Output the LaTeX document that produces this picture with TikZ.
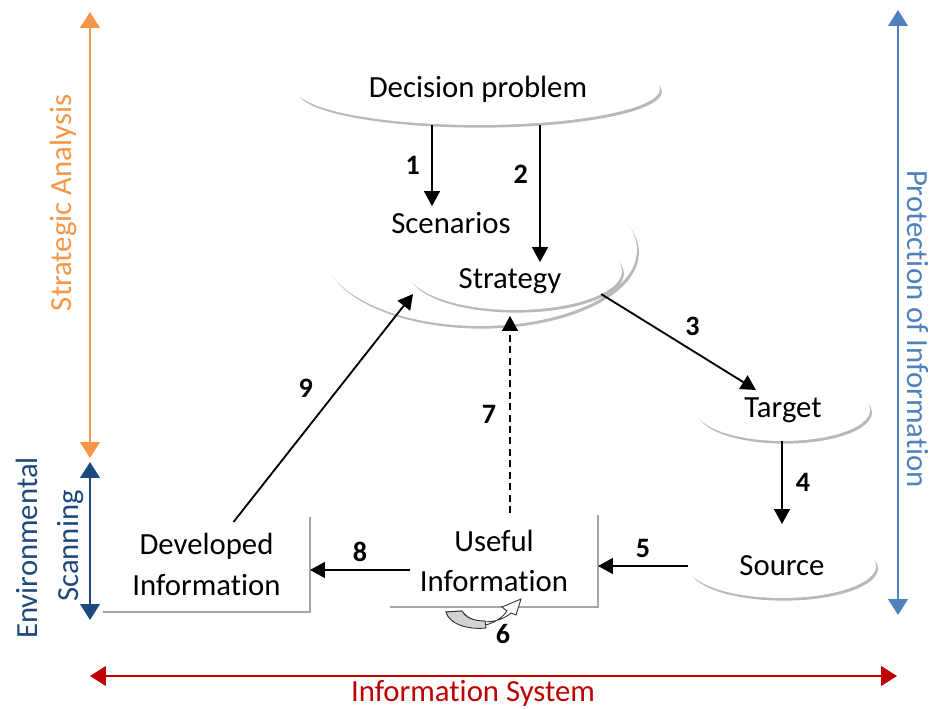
\documentclass[tikz,border=0pt]{standalone}
\usepackage{fontspec}
\setmainfont{Carlito}[Ligatures=NoCommon]
\usetikzlibrary{arrows.meta, shapes.geometric, shadows, calc}

\definecolor{saorange}{RGB}{247,150,70}
\definecolor{scanblue}{RGB}{31,73,125}
\definecolor{protblue}{RGB}{79,129,189}
\definecolor{isred}{RGB}{192,0,0}
\definecolor{boxgray}{RGB}{165,165,165}

\tikzset{
  blob/.style={ellipse,fill=white,inner sep=0pt,outer sep=0pt,
    drop shadow={shadow xshift=1.1pt,shadow yshift=-1.5pt,fill=gray!55,opacity=1}},
  flow/.style={-{Triangle[length=8.5pt,width=9pt]},line width=1.05pt},
  num/.style={font=\fontsize{16}{18}\selectfont\bfseries},
  infobox/.style={align=center,inner sep=0pt,outer sep=0pt},
  boxline/.style={draw=boxgray,line width=1.3pt},
  span/.style={{Triangle[length=9pt,width=11pt]}-{Triangle[length=9pt,width=11pt]},line width=1.5pt}
}

\begin{document}
\begin{tikzpicture}[x=0.02cm,y=-0.02cm,font=\fontsize{17.5}{23}\selectfont]
  \useasboundingbox (0,0) rectangle (930,709);

  % ellipses
  \node[blob,minimum width=7.28cm,minimum height=1.44cm] (decision) at (478,89) {Decision problem};
  \node[blob,minimum width=6.28cm,minimum height=3.04cm] (scenE) at (480,250) {};
  \node[blob,minimum width=4.28cm,minimum height=1.56cm] (stratE) at (515,271) {};
  \node (scen) at (451,223) {Scenarios};
  \node (strat) at (510,281) {Strategy};
  \node[blob,minimum width=3.48cm,minimum height=1.24cm] (target) at (783,410) {Target};
  \node[blob,minimum width=3.76cm,minimum height=1.28cm] (source) at (782,566) {Source};

  % open boxes
  \node[infobox,minimum width=4.14cm,minimum height=1.9cm] (dev) at (206.5,564.5) {Developed\\Information};
  \node[infobox,minimum width=4.16cm,minimum height=1.84cm] (useful) at (494,561) {Useful\\Information};
  \draw[boxline] (dev.north east) |- (dev.south west);
  \draw[boxline] (useful.north east) |- (useful.south west);

  % numbered flows
  \draw[flow] ($(decision.south)+(-46,0)$) coordinate (a1) -- node[num,left=3pt]{1} (a1 |- scen.north);
  \draw[flow] ($(decision.south)+(62,0)$) coordinate (a2) -- node[num,left=3pt,pos=0.36]{2} (a2 |- strat.north);
  \draw[flow] (stratE.-15) -- node[num,above right=0pt,pos=0.5]{3} ($(target.center)+(-27,-20)$);
  \draw[flow] ($(target.south)+(-1,0)$) coordinate (a4) -- node[num,right=4pt]{4} ($(a4 |- source.north)+(0,-10)$);
  \draw[flow] (source.west) -- node[num,above=1pt]{5} (source.west -| useful.east);
  \draw[flow,dash pattern=on 4pt off 2.5pt] ($(useful.north)+(16,-2)$) coordinate (a7) -- node[num,left=4pt]{7} ($(a7 |- stratE.south)+(0,6)$);
  \draw[flow] ($(useful.west)+(20,9)$) coordinate (a8) -- node[num,above=1pt]{8} (a8 -| dev.east);
  \draw[flow] ($(dev.north)+(27,5)$) -- node[num,above left=2pt]{9} ($(stratE.center)+(-102,23)$);

  % loop on useful information
  \filldraw[fill=white,draw=black!80,line width=0.5pt] (446,612) .. controls (452,631) and (493,632) .. (507,611)
    -- (502,607) -- (521,599) -- (516,615) -- (511,613) .. controls (496,626) and (470,624) .. (462,611) -- cycle;
  \filldraw[fill=gray!35,draw=black!80,line width=0.5pt] (446,612) .. controls (449,624) and (468,630) .. (486,628)
    -- (485,621) .. controls (473,621) and (465,617) .. (462,611) -- cycle;
  \node[num] (six) at (503,634) {6};

  % side ranges
  \coordinate (saTop) at (90,12); \coordinate (saBot) at (90,458);
  \coordinate (esTop) at (90,462); \coordinate (esBot) at (90,620);
  \coordinate (piTop) at (898,10); \coordinate (piBot) at (898,615);
  \coordinate (isL) at (90,676); \coordinate (isR) at (897,676);
  \draw[span,saorange] (saTop) -- (saBot);
  \draw[span,scanblue] (esTop) -- (esBot);
  \draw[span,protblue] (piTop) -- (piBot);
  \draw[span,isred] (isL) -- (isR);
  \node[rotate=90,text=saorange] (salabel) at (63,203) {Strategic Analysis};
  \node[rotate=90,text=scanblue] (envlabel) at (27,548) {Environmental};
  \node[rotate=90,text=scanblue] (scanlabel) at (71,546) {Scanning};
  \node[rotate=-90,text=protblue] (pilabel) at (918,329) {Protection of Information};
  \node[text=isred] (islabel) at (473,693) {Information System};
\end{tikzpicture}
\end{document}
